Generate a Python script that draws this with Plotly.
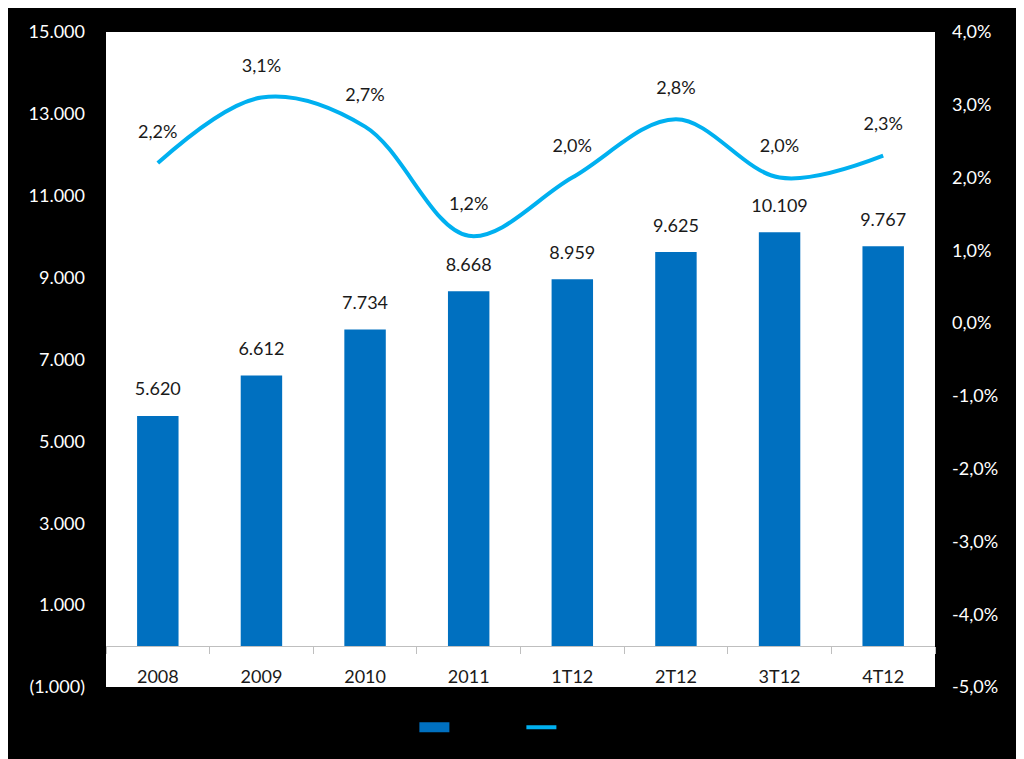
import plotly.graph_objects as go

categories = ["2008", "2009", "2010", "2011", "1T12", "2T12", "3T12", "4T12"]
volumes = [5620, 6612, 7734, 8668, 8959, 9625, 10109, 9767]
rates = [2.2, 3.1, 2.7, 1.2, 2.0, 2.8, 2.0, 2.3]

left_ticks = [-1000, 1000, 3000, 5000, 7000, 9000, 11000, 13000, 15000]
right_ticks = [-5, -4, -3, -2, -1, 0, 1, 2, 3, 4]

BAR_COLOR = "#0070C0"
LINE_COLOR = "#00B0F0"


def fmt_thousands(v):
    s = f"{abs(v):,}".replace(",", ".")
    return f"({s})" if v < 0 else s


def fmt_pct(v):
    return f"{v:.1f}".replace(".", ",") + "%"


FONT = "Lato"
FS = 18
fig = go.Figure()
fig.add_trace(go.Bar(
    x=categories, y=volumes, name="Volume",
    marker=dict(color=BAR_COLOR, line=dict(width=0)),
    showlegend=False,
))
# bar value labels
fig.add_trace(go.Scatter(
    x=categories, y=volumes, mode="markers+text", showlegend=False,
    marker=dict(size=24, opacity=0),
    text=[fmt_thousands(v) for v in volumes], textposition="top center",
    textfont=dict(family=FONT, size=FS, color="#1a1a1a"),
    cliponaxis=False, hoverinfo="skip",
))
fig.add_trace(go.Scatter(
    x=categories, y=rates, name="Variação", yaxis="y2",
    mode="lines", line=dict(color=LINE_COLOR, width=4, shape="spline", smoothing=1),
    showlegend=False,
))
# line value labels
fig.add_trace(go.Scatter(
    x=categories, y=rates, yaxis="y2", mode="markers+text", showlegend=False,
    marker=dict(size=32, opacity=0),
    text=[fmt_pct(v) for v in rates], textposition="top center",
    textfont=dict(family=FONT, size=FS, color="#1a1a1a"),
    cliponaxis=False, hoverinfo="skip",
))
# legend entries
fig.add_trace(go.Scatter(
    x=[None], y=[None], mode="lines", name="Volume",
    line=dict(color=BAR_COLOR, width=11),
))
fig.add_trace(go.Scatter(
    x=[None], y=[None], mode="lines", name="Variação", yaxis="y2",
    line=dict(color=LINE_COLOR, width=4),
))

fig.update_layout(
    width=1024, height=759,
    paper_bgcolor="black", plot_bgcolor="white",
    margin=dict(l=98, r=97, t=15, b=80),
    bargap=0.6,
    font=dict(family=FONT, size=FS, color="white"),
    showlegend=True,
    legend=dict(orientation="h", x=0.372, xanchor="left", y=-0.062, yanchor="middle",
                font=dict(color="black", size=FS), bgcolor="rgba(0,0,0,0)",
                entrywidth=62, entrywidthmode="pixels"),
    xaxis=dict(
        type="category", range=[-0.5, len(categories) - 0.5],
        anchor="free", position=(0 - (-1000)) / 16000,
        showline=True, linecolor="#bfbfbf", linewidth=1,
        ticks="outside", tickson="boundaries", ticklen=7, tickcolor="#bfbfbf",
        ticklabelstandoff=14,
        tickfont=dict(family=FONT, size=FS, color="#1a1a1a"),
        showgrid=False, zeroline=False,
    ),
    yaxis=dict(
        range=[-1000, 15000], tickvals=left_ticks,
        ticktext=[fmt_thousands(v) for v in left_ticks],
        showgrid=False, zeroline=False, showline=False,
        ticks="", ticklabelstandoff=20,
        tickfont=dict(family=FONT, size=FS, color="white"),
    ),
    yaxis2=dict(
        range=[-5, 4], overlaying="y", side="right", tickvals=right_ticks,
        ticktext=[fmt_pct(v) for v in right_ticks],
        showgrid=False, zeroline=False, showline=False,
        ticks="", ticklabelstandoff=16,
        tickfont=dict(family=FONT, size=FS, color="white"),
    ),
)

fig.write_html("out.html")
